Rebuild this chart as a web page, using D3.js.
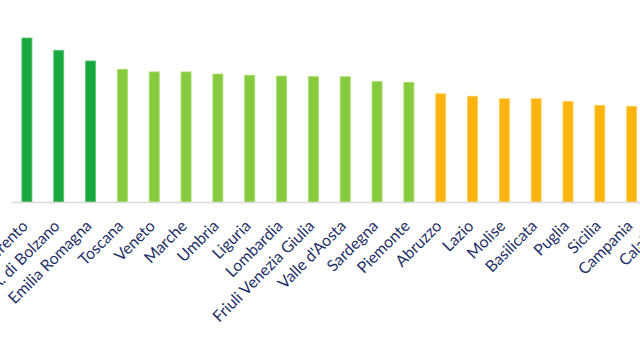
<!DOCTYPE html>
<html>
<head>
<meta charset="utf-8">
<script src="https://cdn.jsdelivr.net/npm/d3@7"></script>
<style>
  html, body { margin: 0; padding: 0; background: #ffffff; overflow: hidden; }
  svg { display: block; }
</style>
</head>
<body>
<svg id="chart" width="640" height="338"></svg>
<script>
// Regional index, sorted from highest to lowest
const regions = [
  "P.A. di Trento", "P.A. di Bolzano", "Emilia Romagna", "Toscana", "Veneto",
  "Marche", "Umbria", "Liguria", "Lombardia", "Friuli Venezia Giulia",
  "Valle d'Aosta", "Sardegna", "Piemonte", "Abruzzo", "Lazio", "Molise",
  "Basilicata", "Puglia", "Sicilia", "Campania", "Calabria"
];
const values = [
  100.0, 92.5, 86.0, 80.9, 79.3, 79.3, 78.0, 77.3, 76.8, 76.4,
  76.4, 73.4, 73.0, 66.0, 64.5, 63.0, 63.0, 61.4, 59.0, 58.4, 57.0
];
// Performance band of each region
const groups = [
  "alto", "alto", "alto", "medio", "medio", "medio", "medio", "medio", "medio", "medio",
  "medio", "medio", "medio", "basso", "basso", "basso", "basso", "basso", "basso", "basso", "basso"
];
const groupNames = ["alto", "medio", "basso"];
const groupColors = ["#19a83f", "#86cb3e", "#fdb40f"];
const groupStrokes = ["#5cc474", "#a9dc6c", "#fdd062"];

const data = regions.map((r, i) => ({ region: r, value: values[i], group: groups[i] }));

const svg = d3.select("#chart");
const baseY = 202;
const x0 = 11, step = 31.83;

const x = d3.scaleBand()
  .domain(regions)
  .range([x0, x0 + step * regions.length])
  .paddingInner(0.685)
  .paddingOuter(0.3425);

const y = d3.scaleLinear()
  .domain([0, 100])
  .range([baseY, 38]);

const color = d3.scaleOrdinal().domain(groupNames).range(groupColors);
const stroke = d3.scaleOrdinal().domain(groupNames).range(groupStrokes);

// Bars
svg.append("g")
  .selectAll("rect")
  .data(data)
  .join("rect")
  .attr("x", d => x(d.region))
  .attr("y", d => y(d.value))
  .attr("width", x.bandwidth())
  .attr("height", d => baseY - y(d.value))
  .attr("fill", d => color(d.group))
  .attr("stroke", d => stroke(d.group))
  .attr("stroke-width", 0.8);

// Category axis line
const axis = d3.axisBottom(x).tickSize(0).tickFormat("");
const gx = svg.append("g")
  .attr("transform", `translate(0,${baseY})`)
  .call(axis);

gx.select(".domain")
  .attr("stroke", "#d9d9d9")
  .attr("stroke-width", 1.5);

// Label font size chosen so the longest label spans about 136px
const fontFamily = "Lato, 'Open Sans', sans-serif";
const probe = svg.append("text")
  .attr("font-family", fontFamily)
  .attr("font-size", 14)
  .text("Friuli Venezia Giulia");
const fontSize = 14 * 136 / probe.node().getComputedTextLength();
probe.remove();

// Slanted category labels, ending just below each bar
const lx = d => x(d) + x.bandwidth() / 2 + 2;
const ly = baseY + 25;
svg.append("g")
  .selectAll("text")
  .data(regions)
  .join("text")
  .attr("x", lx)
  .attr("y", ly)
  .attr("transform", d => `rotate(-45 ${lx(d)} ${ly})`)
  .attr("text-anchor", "end")
  .attr("font-family", fontFamily)
  .attr("font-size", fontSize)
  .attr("fill", "#1f3068")
  .text(d => d);
</script>
</body>
</html>
